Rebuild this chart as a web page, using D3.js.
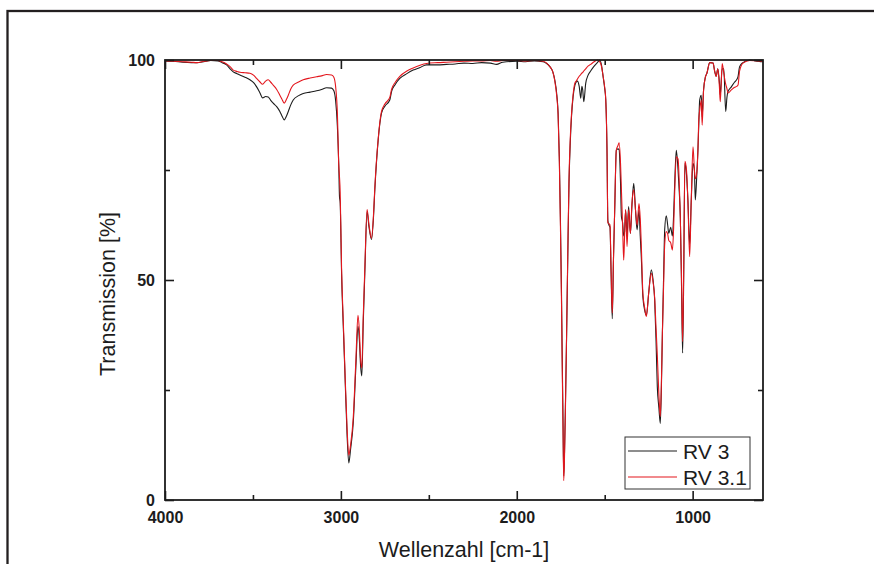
<!DOCTYPE html>
<html>
<head>
<meta charset="utf-8">
<script src="https://cdn.jsdelivr.net/npm/d3@7"></script>
<style>
	body { margin: 0; background: #fff; }
	svg { display: block; font-family: "Liberation Sans", Arial, sans-serif; }
</style>
</head>
<body>
<div id="graph"></div>
<script>

// Wavenumbers (cm-1), shared by both spectra:
let wavenumbers = [
	4000, 3950, 3900, 3850, 3818, 3780, 3740, 3700, 3675, 3650,
	3630, 3612, 3590, 3574, 3545, 3517, 3495, 3479, 3460, 3445,
	3428, 3413, 3400, 3385, 3365, 3347, 3335, 3322, 3310, 3299,
	3285, 3271, 3240, 3214, 3175, 3138, 3110, 3081, 3053, 3040,
	3030, 3020, 3012, 3008, 3004, 2996, 2985, 2977, 2965, 2955,
	2945, 2930, 2915, 2903, 2895, 2888, 2881, 2873, 2864, 2851,
	2840, 2826, 2815, 2807, 2788, 2769, 2750, 2722, 2712, 2690,
	2665, 2625, 2589, 2550, 2513, 2450, 2400, 2350, 2300, 2250,
	2200, 2150, 2115, 2080, 2000, 1950, 1900, 1850, 1830, 1812,
	1795, 1784, 1772, 1765, 1758, 1752, 1746, 1742, 1737, 1733,
	1729, 1724, 1718, 1710, 1703, 1696, 1689, 1680, 1670, 1662,
	1655, 1645, 1636, 1630, 1625, 1619, 1608, 1595, 1580, 1560,
	1540, 1528, 1518, 1509, 1500, 1494, 1487, 1482, 1476, 1470,
	1464, 1457, 1450, 1443, 1434, 1425, 1418, 1410, 1405, 1398,
	1392, 1387, 1381, 1373, 1364, 1354, 1345, 1335, 1325, 1316,
	1305, 1298, 1292, 1283, 1272, 1263, 1250, 1235, 1225, 1216,
	1208, 1201, 1192, 1184, 1178, 1172, 1165, 1159, 1150, 1142,
	1136, 1125, 1115, 1108, 1102, 1093, 1083, 1076, 1070, 1063,
	1057, 1051, 1044, 1035, 1027, 1017, 1008, 998, 990, 985,
	976, 970, 965, 960, 951, 946, 938, 927, 919, 903,
	884, 875, 866, 857, 848, 843, 832, 823, 812, 805,
	799, 780, 761, 750, 742, 733, 714, 676, 638, 606,
	600
	];

// Transmission [%] of RV 3 (black):
let rv3 = [
	99.8, 99.7, 99.5, 99.4, 99.4, 99.6, 99.9, 99.8, 99.4, 98.9,
	98.0, 97.3, 96.9, 96.6, 96.1, 95.5, 94.8, 93.9, 92.5, 91.4,
	91.7, 91.6, 90.9, 90.2, 89.4, 88.3, 87.3, 86.4, 87.2, 88.3,
	89.8, 90.9, 91.9, 92.4, 92.7, 93.0, 93.3, 93.7, 93.6, 93.0,
	90.8, 85.0, 76.0, 69.0, 67.5, 51.5, 38.0, 28.8, 15.0, 8.4,
	11.5, 17.4, 30.0, 39.5, 36.5, 30.5, 28.2, 40.0, 51.5, 65.5,
	62.0, 59.2, 64.0, 70.5, 81.8, 87.9, 89.5, 90.9, 92.8, 94.5,
	95.8, 96.9, 97.7, 98.3, 98.9, 98.9, 99.0, 99.1, 99.3, 99.2,
	99.4, 99.3, 99.0, 99.5, 99.7, 99.6, 99.8, 99.6, 99.2, 98.5,
	97.3, 95.5, 92.0, 88.0, 78.0, 64.4, 48.0, 34.0, 18.0, 5.5,
	10.0, 20.0, 34.0, 55.0, 72.0, 81.0, 87.0, 91.5, 94.2, 95.0,
	95.2, 94.0, 91.3, 94.0, 93.2, 90.5, 94.7, 96.5, 97.5, 98.6,
	99.5, 100, 98.8, 96.2, 93.5, 90.9, 79.5, 63.5, 62.5, 62.0,
	52.0, 41.2, 55.0, 66.0, 79.5, 79.8, 79.6, 72.0, 64.4, 63.0,
	60.0, 61.0, 65.9, 60.0, 66.7, 60.6, 67.0, 72.0, 66.0, 61.4,
	65.9, 60.0, 55.3, 46.2, 43.0, 42.0, 47.0, 52.3, 50.0, 45.5,
	36.0, 25.8, 21.0, 17.4, 25.0, 37.9, 51.0, 61.4, 64.6, 62.5,
	60.6, 62.0, 60.0, 65.0, 72.0, 79.5, 75.0, 70.0, 64.4, 48.0,
	33.4, 50.0, 76.5, 74.0, 68.2, 58.0, 68.0, 76.5, 75.0, 68.2,
	74.2, 79.5, 85.5, 90.9, 92.0, 87.1, 93.2, 96.2, 97.0, 99.4,
	99.3, 97.5, 96.3, 98.0, 95.0, 92.0, 98.0, 98.0, 88.3, 91.5,
	92.8, 93.9, 95.0, 95.5, 96.2, 98.5, 99.4, 100, 99.8, 99.6,
	99.6
	];

// Transmission [%] of RV 3.1 (red):
let rv31 = [
	99.8, 99.7, 99.6, 99.5, 99.4, 99.7, 99.9, 99.9, 99.6, 99.1,
	98.5, 97.7, 97.4, 97.2, 97.1, 97.0, 96.5, 95.8, 95.0, 94.5,
	95.2, 95.5, 95.0, 94.3, 93.3, 92.0, 91.1, 90.2, 91.0, 92.0,
	93.4, 94.3, 95.0, 95.5, 95.9, 96.2, 96.4, 96.7, 96.6, 96.1,
	94.0, 88.0, 76.0, 73.5, 70.0, 52.5, 39.0, 29.5, 16.5, 10.2,
	12.5, 18.5, 31.5, 42.0, 38.5, 32.0, 30.0, 41.5, 52.5, 66.0,
	62.5, 59.5, 64.5, 71.0, 82.0, 88.3, 90.0, 91.5, 93.3, 95.0,
	96.3, 97.5, 98.2, 98.8, 99.2, 99.4, 99.5, 99.6, 99.7, 99.8,
	99.8, 99.9, 99.7, 99.9, 99.9, 99.8, 99.9, 99.7, 99.3, 98.5,
	97.3, 95.3, 91.5, 87.5, 77.0, 63.0, 46.0, 32.0, 16.0, 4.4,
	9.0, 19.0, 34.0, 56.0, 73.0, 82.0, 87.5, 92.0, 94.7, 95.2,
	95.7, 96.3, 96.7, 97.0, 97.2, 97.5, 98.0, 98.6, 99.0, 99.6,
	100, 99.6, 98.5, 96.3, 93.8, 91.0, 80.0, 63.0, 62.8, 62.5,
	53.0, 42.5, 55.0, 66.5, 79.5, 80.5, 81.2, 76.5, 70.5, 62.0,
	54.5, 60.0, 66.0, 57.6, 66.0, 60.6, 67.5, 70.5, 66.0, 62.5,
	67.4, 64.0, 58.0, 47.0, 43.5, 41.7, 47.0, 51.5, 49.5, 46.0,
	39.0, 33.0, 24.0, 19.0, 26.0, 38.0, 49.0, 58.0, 61.0, 60.5,
	59.0, 58.5, 56.8, 62.0, 70.0, 78.0, 77.5, 72.0, 64.0, 50.0,
	36.0, 52.0, 77.0, 75.0, 68.0, 55.3, 68.0, 80.3, 75.0, 73.0,
	74.5, 79.5, 86.5, 88.5, 90.9, 85.2, 93.0, 96.2, 97.0, 99.4,
	99.3, 97.5, 96.3, 98.0, 94.0, 90.5, 99.2, 97.0, 94.5, 93.5,
	92.5, 93.2, 93.8, 94.0, 94.3, 97.5, 99.3, 99.9, 99.8, 99.7,
	99.6
	];

// Axis ticks:
let xMajorTicks = [4000, 3000, 2000, 1000];
let xMinorTicks = [3500, 2500, 1500];
let yMajorTicks = [0, 50, 100];
let yMinorTicks = [25, 75];

let seriesNames = ["RV 3", "RV 3.1"];
let seriesColours = ["#1c1c1c", "#e3161d"];


let width = 874;
let height = 564;

let padding = {
	top: 60,
	right: 111,
	bottom: 64,
	left: 165
	};

let plotRight = width - padding.right;
let plotBottom = height - padding.bottom;


let svg = d3.select("#graph")
	.append("svg")
		.attr("width", width)
		.attr("height", height)
	;

// Outer frame (runs off the right and bottom edges):
svg
	.append("rect")
		.attr("x", 7.5)
		.attr("y", 11)
		.attr("width", 900)
		.attr("height", 600)
		.attr("fill", "none")
		.attr("stroke", "#231f20")
		.attr("stroke-width", 2.3)
	;


let xScale = d3.scaleLinear()
	.domain([4000, 600])
	.range([padding.left, plotRight])
	;
let yScale = d3.scaleLinear()
	.domain([0, 100])
	.range([plotBottom, padding.top])
	;


// Put both series together for drawing:
let series = [rv3, rv31].map( (vals, i) => ({
	name: seriesNames[i],
	colour: seriesColours[i],
	points: wavenumbers.map( (w, j) => [w, vals[j]] )
	}));

let line = d3.line()
	.x(d => xScale(d[0]))
	.y(d => yScale(d[1]))
	.curve(d3.curveMonotoneX)
	;

svg
	.append("defs")
	.append("clipPath")
		.attr("id", "plotClip")
	.append("rect")
		.attr("x", padding.left)
		.attr("y", padding.top - 2)
		.attr("width", plotRight - padding.left)
		.attr("height", plotBottom - padding.top + 2)
	;

svg
	.append("g")
		.attr("clip-path", "url(#plotClip)")
	.selectAll("path")
	.data(series)
	.enter()
		.append("path")
			.attr("d", d => line(d.points))
			.attr("fill", "none")
			.attr("stroke", d => d.colour)
			.attr("stroke-width", 1.1)
			.attr("stroke-linejoin", "round")
	;


// Axes: ticks point inward, labels only on bottom / left
function addAxis(axisFn, scale, ticks, size, translate, labels, pad) {
	let axis = axisFn(scale)
		.tickValues(ticks)
		.tickSizeInner(-size)
		.tickSizeOuter(0)
		.tickPadding(pad)
		.tickFormat(labels ? d3.format("d") : "")
		;
	let g = svg
		.append("g")
			.attr("transform", translate)
			.call(axis)
		;
	g.select(".domain").remove();
	g.selectAll("line")
		.attr("stroke", "#1c1c1c")
		.attr("stroke-width", 1.6)
		;
	g.selectAll("text")
		.attr("fill", "#1c1c1c")
		.style("font-size", "16px")
		.style("font-weight", "bold")
		.style("font-family", "'Liberation Sans', Arial, sans-serif")
		;
	return g;
	}

addAxis(d3.axisBottom, xScale, xMajorTicks, 9, `translate(0, ${plotBottom})`, true, 12);
addAxis(d3.axisBottom, xScale, xMinorTicks, 5, `translate(0, ${plotBottom})`, false, 12);
addAxis(d3.axisTop, xScale, xMajorTicks, 9, `translate(0, ${padding.top})`, false, 0);
addAxis(d3.axisTop, xScale, xMinorTicks, 5, `translate(0, ${padding.top})`, false, 0);
addAxis(d3.axisLeft, yScale, yMajorTicks, 9, `translate(${padding.left}, 0)`, true, 10);
addAxis(d3.axisLeft, yScale, yMinorTicks, 5, `translate(${padding.left}, 0)`, false, 10);
addAxis(d3.axisRight, yScale, yMajorTicks, 9, `translate(${plotRight}, 0)`, false, 0);
addAxis(d3.axisRight, yScale, yMinorTicks, 5, `translate(${plotRight}, 0)`, false, 0);

// Plot frame:
svg
	.append("rect")
		.attr("x", padding.left)
		.attr("y", padding.top)
		.attr("width", plotRight - padding.left)
		.attr("height", plotBottom - padding.top)
		.attr("fill", "none")
		.attr("stroke", "#1c1c1c")
		.attr("stroke-width", 1.8)
	;


// Axis titles:
svg
	.append("text")
		.attr("x", (padding.left + plotRight) / 2)
		.attr("y", 557)
		.attr("text-anchor", "middle")
		.style("font-size", "21.5px")
		.attr("fill", "#1c1c1c")
		.text("Wellenzahl [cm-1]")
	;
svg
	.append("text")
		.attr("transform", `translate(115, 294) rotate(-90)`)
		.attr("text-anchor", "middle")
		.style("font-size", "21.5px")
		.attr("fill", "#1c1c1c")
		.text("Transmission [%]")
	;


// Legend:
let legend = svg
	.append("g")
		.attr("transform", "translate(625, 437)")
	;
legend
	.append("rect")
		.attr("width", 125)
		.attr("height", 52)
		.attr("fill", "#fff")
		.attr("stroke", "#333")
		.attr("stroke-width", 1)
	;
let legendRows = legend
	.selectAll(".row")
	.data(series)
	.enter()
		.append("g")
			.attr("class", "row")
			.attr("transform", (d, i) => `translate(0, ${14 + i * 26})`)
	;
legendRows
	.append("line")
		.attr("x1", 3)
		.attr("x2", 52)
		.attr("stroke", d => d.colour)
		.attr("stroke-width", 1.1)
	;
legendRows
	.append("text")
		.attr("x", 58)
		.attr("y", 7.5)
		.style("font-size", "21px")
		.attr("fill", "#1c1c1c")
		.text(d => d.name)
	;

</script>
</body>
</html>
